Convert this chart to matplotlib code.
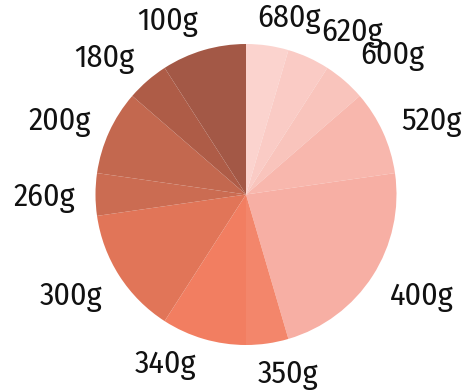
import numpy as np
import matplotlib
matplotlib.use("Agg")
import matplotlib.pyplot as plt
from matplotlib import transforms

# weights and how many times each one shows up
labels = ["680g", "620g", "600g", "520g", "400g", "350g",
          "340g", "300g", "260g", "200g", "180g", "100g"]
counts = [1, 1, 1, 2, 5, 1, 2, 3, 1, 2, 1, 2]
colors = ["#FBD3CE", "#FACBC5", "#F9C4BC", "#F8B7AD", "#F7AFA4", "#F3866B",
          "#F27E61", "#E17558", "#CB6C52", "#C3684F", "#AE5C47", "#A35846"]

W, H = 474, 392
fig = plt.figure(figsize=(W / 100, H / 100), dpi=100)
cx, cy, r = 246, 194.5, 150.5
ax = fig.add_axes([(cx - r) / W, (H - cy - r) / H, 2 * r / W, 2 * r / H])

wedges, texts = ax.pie(counts, labels=labels, colors=colors,
                       startangle=90, counterclock=False,
                       wedgeprops=dict(linewidth=0),
                       textprops=dict(fontsize=23, family="Fira Sans Condensed",
                                      color="#111111"))

# labels sit on a slightly taller ellipse than the pie
rx, ry = 1.135, 1.22
# small pixel nudges so crowded labels don't collide
nudge = {"680g": (-13, 3), "620g": (4, 2), "600g": (2, -3),
         "350g": (-13, -5), "340g": (-2, -9)}
for w, t in zip(wedges, texts):
    a = np.deg2rad((w.theta1 + w.theta2) / 2)
    x, y = rx * np.cos(a), ry * np.sin(a)
    dx, dy = nudge.get(t.get_text(), (0, 0))
    t.set_position((x, y))
    t.set_transform(transforms.offset_copy(ax.transData, fig=fig, x=dx, y=-dy, units="dots"))
    t.set_ha("left" if x > 0 else "right")
    t.set_va("center_baseline")

ax.set_xlim(-1, 1)
ax.set_ylim(-1, 1)
ax.set_aspect("equal")
ax.axis("off")

fig.savefig("out.png", dpi=100)
